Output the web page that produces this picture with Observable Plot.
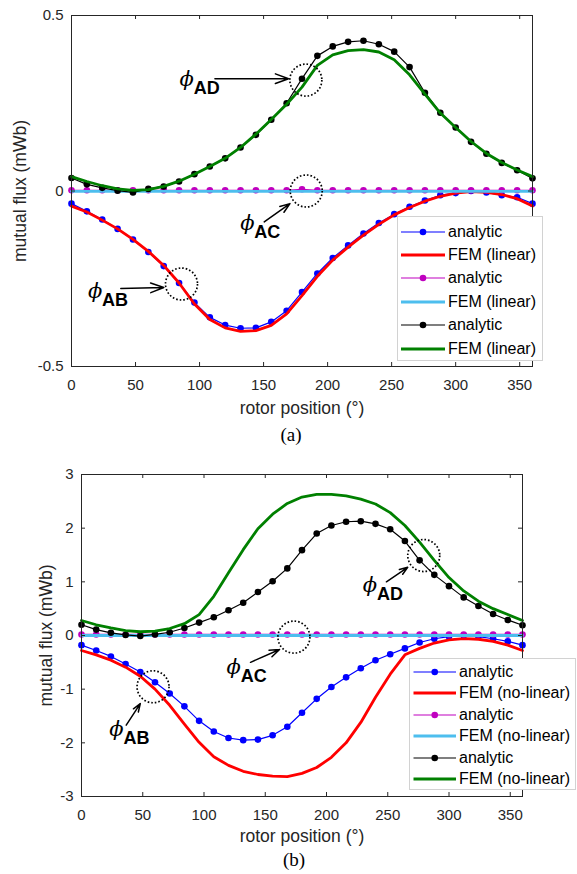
<!DOCTYPE html>
<html><head><meta charset="utf-8">
<script src="https://cdn.jsdelivr.net/npm/d3@7"></script>
<script src="https://cdn.jsdelivr.net/npm/@observablehq/plot@0.6"></script>
<style>
body{margin:0;background:#fff;}
#root{position:relative;width:577px;height:874px;overflow:hidden;background:#fff}
.panel{position:absolute;left:0;width:577px}
.panel svg{overflow:visible}
.legend{position:absolute;background:#fff;border:1px solid #d2d2d2;box-sizing:border-box;font-family:'Liberation Sans',Arial,sans-serif;font-size:16px;color:#000}
</style></head><body><div id="root"></div>
<script>
// ---------- data ----------
const angles = [0,12,24,36,48,60,72,84,96,108,120,132,144,156,168,180,192,204,216,228,240,252,264,276,288,300,312,324,336,348,360];
const xTicks = [0,50,100,150,200,250,300,350];
const yTicksA = [-0.5,0,0.5];
const yTicksB = [-3,-2,-1,0,1,2,3];

// (a) linear
const abAnalyticA = [-0.036,-0.058,-0.081,-0.108,-0.138,-0.174,-0.214,-0.262,-0.318,-0.360,-0.382,-0.391,-0.390,-0.373,-0.341,-0.288,-0.235,-0.191,-0.155,-0.121,-0.091,-0.066,-0.045,-0.027,-0.012,-0.006,0.000,-0.004,-0.012,-0.018,-0.036];
const abFemA = [-0.043,-0.060,-0.083,-0.108,-0.138,-0.172,-0.212,-0.262,-0.322,-0.366,-0.390,-0.400,-0.398,-0.383,-0.350,-0.298,-0.243,-0.197,-0.160,-0.126,-0.095,-0.068,-0.047,-0.029,-0.015,-0.006,-0.002,-0.004,-0.010,-0.022,-0.043];
const acAnalyticA = [0.002,0.002,0.002,0.002,0.002,0.002,0.002,0.002,0.002,0.002,0.002,0.002,0.002,0.002,0.002,0.005,0.002,0.002,0.002,0.002,0.002,0.002,0.002,0.002,0.002,0.002,0.002,0.002,0.002,0.002,0.002];
const acFemA = [-0.001,-0.001,-0.001,-0.001,-0.001,-0.001,-0.001,-0.001,-0.001,-0.001,-0.001,-0.001,-0.001,-0.001,-0.001,-0.001,-0.001,-0.001,-0.001,-0.001,-0.001,-0.001,-0.001,-0.001,-0.001,-0.001,-0.001,-0.001,-0.001,-0.001,-0.001];
const adAnalyticA = [0.037,0.019,0.009,0.001,-0.004,0.006,0.013,0.027,0.048,0.070,0.093,0.124,0.160,0.203,0.250,0.320,0.385,0.412,0.425,0.428,0.418,0.397,0.353,0.280,0.223,0.181,0.140,0.106,0.080,0.059,0.036];
const adFemA = [0.041,0.027,0.015,0.006,0.002,0.004,0.013,0.028,0.048,0.070,0.093,0.124,0.162,0.204,0.247,0.296,0.358,0.388,0.400,0.403,0.396,0.374,0.331,0.276,0.222,0.181,0.141,0.107,0.081,0.060,0.041];

// (b) non-linear
const abAnalyticB = [-0.18,-0.28,-0.39,-0.53,-0.68,-0.87,-1.08,-1.32,-1.59,-1.79,-1.91,-1.95,-1.94,-1.86,-1.70,-1.44,-1.18,-0.96,-0.78,-0.61,-0.46,-0.35,-0.24,-0.13,-0.06,-0.02,0.00,-0.02,-0.06,-0.11,-0.18];
const abFemB = [-0.28,-0.36,-0.46,-0.59,-0.76,-1.00,-1.30,-1.65,-1.99,-2.26,-2.42,-2.53,-2.59,-2.62,-2.63,-2.57,-2.46,-2.27,-2.00,-1.62,-1.15,-0.72,-0.36,-0.24,-0.14,-0.08,-0.06,-0.07,-0.11,-0.18,-0.28];
const acAnalyticB = [0.02,0.02,0.02,0.02,0.02,0.02,0.02,0.02,0.02,0.02,0.02,0.02,0.02,0.02,0.02,0.02,0.02,0.02,0.02,0.02,0.02,0.02,0.02,0.02,0.02,0.02,0.02,0.02,0.02,0.02,0.02];
const acFemB = [0.0,0.0,0.0,0.0,0.0,0.0,0.0,0.0,0.0,0.0,0.0,0.0,0.0,0.0,0.0,0.0,0.0,0.0,0.0,0.0,0.0,0.0,0.0,0.0,0.0,0.0,0.0,0.0,0.0,0.0,0.0];
const adAnalyticB = [0.20,0.11,0.05,0.01,-0.01,0.02,0.06,0.14,0.24,0.34,0.47,0.61,0.81,1.01,1.25,1.59,1.90,2.05,2.12,2.13,2.08,1.98,1.76,1.40,1.13,0.92,0.71,0.55,0.40,0.29,0.19];
const adFemB = [0.28,0.20,0.14,0.09,0.07,0.08,0.13,0.22,0.39,0.73,1.17,1.60,1.99,2.26,2.46,2.58,2.63,2.63,2.60,2.54,2.45,2.29,2.05,1.74,1.40,1.08,0.83,0.64,0.50,0.39,0.28];

const analyticColors = ["#0000ff", "#bf00bf", "#000000"];
const femColors = ["#ff0000", "#4dbeee", "#008000"];
const analyticLabel = "analytic";
const femLabelA = "FEM (linear)";
const femLabelB = "FEM (no-linear)";
const xLabel = "rotor position (°)";
const yLabel = "mutual flux (mWb)";

// annotations (data coordinates): phi label, dotted circle, arrow
const annotationsA = [
  {sub: "AD", tx: 90, ty: 0.318, cx: 183, cy: 0.316, ax1: 112, ay1: 0.320, ax2: 169.5, ay2: 0.320},
  {sub: "AC", tx: 137.3, ty: -0.091, cx: 183.3, cy: 0.0, ax1: 150.5, ay1: -0.088, ax2: 170.6, ay2: -0.036},
  {sub: "AB", tx: 18.4, ty: -0.286, cx: 85.9, cy: -0.265, ax1: 38.5, ay1: -0.278, ax2: 72.1, ay2: -0.275}
];
const annotationsB = [
  {sub: "AD", tx: 235.5, ty: 0.935, cx: 279.4, cy: 1.49, ax1: 248.9, ay1: 1.00, ax2: 266.3, ay2: 1.27},
  {sub: "AC", tx: 124.3, ty: -0.60, cx: 173.4, cy: -0.03, ax1: 138, ay1: -0.50, ax2: 161.7, ay2: -0.26},
  {sub: "AB", tx: 28.5, ty: -1.75, cx: 58.4, cy: -0.955, ax1: 36.5, ay1: -1.67, ax2: 48, ay2: -1.27}
];

// ---------- drawing ----------
const W = 577;
const AX = "#262626";
const sans = "'Liberation Sans', Arial, sans-serif";
const serif = "'Liberation Serif', 'Times New Roman', serif";
const phiFont = "'DejaVu Serif', 'Liberation Serif', serif";

function panel(cfg) {
  const plotW = W - cfg.mL - cfg.mR, plotH = cfg.height - cfg.mT - cfg.mB;
  const marks = [];
  cfg.series.forEach((s, i) => {
    marks.push(Plot.line(s.analytic, {x: angles, y: s.analytic, stroke: analyticColors[i], strokeWidth: 1.2}));
    marks.push(Plot.dot(s.analytic, {x: angles, y: s.analytic, r: 3.3, fill: analyticColors[i]}));
    marks.push(Plot.line(s.fem, {x: angles, y: s.fem, stroke: femColors[i], strokeWidth: 2.8}));
  });
  marks.push(
    Plot.dot(cfg.anns, {x: "cx", y: "cy", r: 16, fill: "none", stroke: "black", strokeWidth: 1.7, strokeDasharray: "1.6,2"}),
    Plot.arrow(cfg.anns, {x1: "ax1", y1: "ay1", x2: "ax2", y2: "ay2", stroke: "black", strokeWidth: 1.5, headLength: 14, headAngle: 40}),
    Plot.text(cfg.anns, {x: "tx", y: "ty", text: () => "\u03D5", fontFamily: phiFont, fontStyle: "italic", fontSize: 21, fill: "black", textAnchor: "middle", lineAnchor: "middle"}),
    Plot.text(cfg.anns, {x: "tx", y: "ty", text: "sub", dx: 7, dy: 9, textAnchor: "start", lineAnchor: "middle", fontFamily: sans, fontWeight: "bold", fontSize: 18, fill: "black"})
  );
  marks.push(
    Plot.frame({stroke: AX, strokeWidth: 1}),
    Plot.tickX(xTicks, {x: d => d, insetTop: plotH - 4, stroke: AX}),
    Plot.tickX(xTicks, {x: d => d, insetBottom: plotH - 4, stroke: AX}),
    Plot.tickY(cfg.yTicks, {y: d => d, insetRight: plotW - 4, stroke: AX}),
    Plot.tickY(cfg.yTicks, {y: d => d, insetLeft: plotW - 4, stroke: AX}),
    Plot.axisX(xTicks, {anchor: "bottom", tickSize: 0, tickPadding: 13, tickFormat: d => String(d), label: null, fontSize: 15, fill: AX}),
    Plot.axisY(cfg.yTicks, {anchor: "left", tickSize: 0, tickPadding: 8, tickFormat: d => String(d), label: null, fontSize: 15, fill: AX}),
    Plot.text([xLabel], {text: d => d, frameAnchor: "bottom", textAnchor: "middle", lineAnchor: "middle", dy: cfg.labelDy, fontSize: 17.5, fill: AX}),
    Plot.text([yLabel], {text: d => d, frameAnchor: "left", textAnchor: "middle", lineAnchor: "middle", rotate: -90, dx: cfg.yLabelDx, fontSize: 17.5, fill: AX}),
    Plot.text([cfg.caption], {text: d => d, frameAnchor: "bottom", textAnchor: "middle", lineAnchor: "middle", dx: cfg.capDx, dy: cfg.capDy, fontFamily: serif, fontSize: 19, fill: "black"})
  );
  const svg = Plot.plot({
    width: W, height: cfg.height,
    marginLeft: cfg.mL, marginRight: cfg.mR, marginTop: cfg.mT, marginBottom: cfg.mB,
    x: {domain: [0, 360]},
    y: {domain: cfg.yDomain},
    style: {fontFamily: sans, fontSize: "15px", background: "transparent", color: AX, overflow: "visible"},
    marks
  });
  const div = d3.select("#root").append("div").attr("class", "panel")
    .style("top", cfg.top + "px").style("height", cfg.height + "px").style("z-index", cfg.z);
  div.node().appendChild(svg);

  // legend overlay
  const L = cfg.legend;
  const box = div.append("div").attr("class", "legend")
    .style("left", L.left + "px").style("top", L.top + "px")
    .style("width", L.width + "px").style("height", L.height + "px");
  const items = [];
  cfg.series.forEach((s, i) => {
    items.push({label: analyticLabel, color: analyticColors[i], dot: true});
    items.push({label: cfg.femLabel, color: femColors[i], dot: false});
  });
  items.forEach((it, i) => {
    const row = box.append("div")
      .style("position", "absolute").style("left", "0px")
      .style("top", (L.row0 + L.step * i - 11) + "px").style("height", "22px")
      .style("display", "flex").style("align-items", "center").style("white-space", "nowrap");
    const sw = row.append("svg").attr("width", L.textX).attr("height", 22).style("flex", "none");
    sw.append("line").attr("x1", L.x1).attr("x2", L.x2).attr("y1", 11).attr("y2", 11)
      .attr("stroke", it.color).attr("stroke-width", it.dot ? 1.2 : 2.8);
    if (it.dot) sw.append("circle").attr("cx", (L.x1 + L.x2) / 2).attr("cy", 11).attr("r", 3.3).attr("fill", it.color);
    row.append("span").text(it.label);
  });
}

panel({
  top: 0, height: 440, mL: 71, mR: 45, mT: 15, mB: 74, z: 2,
  yDomain: [-0.5, 0.5], yTicks: yTicksA,
  series: [{analytic: abAnalyticA, fem: abFemA}, {analytic: acAnalyticA, fem: acFemA}, {analytic: adAnalyticA, fem: adFemA}],
  anns: annotationsA, femLabel: femLabelA, caption: "(a)",
  labelDy: 41.7, yLabelDx: -51, capDy: 68.6, capDx: -11,
  legend: {left: 397, top: 216, width: 146, height: 145, row0: 14.5, step: 23.4, x1: 3, x2: 47, textX: 50}
});
panel({
  top: 440, height: 434, mL: 81, mR: 55, mT: 34, mB: 78, z: 1,
  yDomain: [-3, 3], yTicks: yTicksB,
  series: [{analytic: abAnalyticB, fem: abFemB}, {analytic: acAnalyticB, fem: acFemB}, {analytic: adAnalyticB, fem: adFemB}],
  anns: annotationsB, femLabel: femLabelB, caption: "(b)",
  labelDy: 39.8, yLabelDx: -35, capDy: 63, capDx: -8,
  legend: {left: 409, top: 218, width: 167, height: 132, row0: 12.5, step: 21.5, x1: 3.5, x2: 46, textX: 49}
});
</script></body></html>
